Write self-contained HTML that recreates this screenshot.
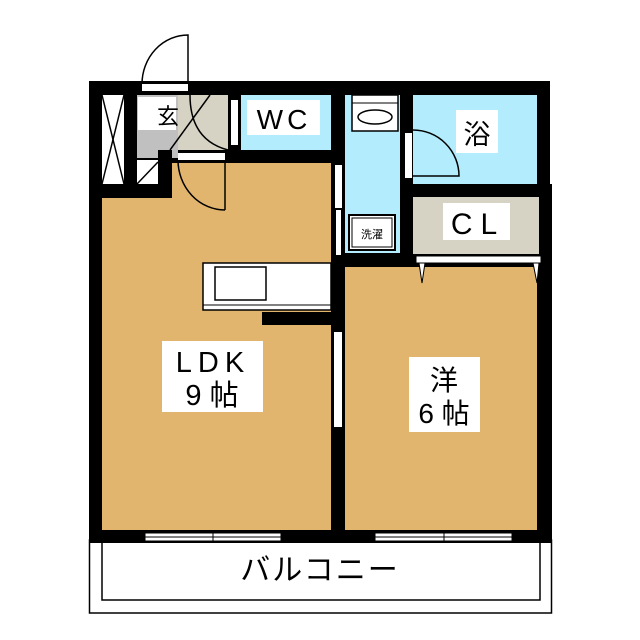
<!DOCTYPE html>
<html><head><meta charset="utf-8"><style>
html,body{margin:0;padding:0;background:#fff;width:640px;height:640px;overflow:hidden}
svg{display:block}
text{font-family:"Liberation Sans","Noto Sans CJK JP",sans-serif;fill:#000}
</style></head><body>
<svg width="640" height="640" viewBox="0 0 640 640" xmlns="http://www.w3.org/2000/svg">
<rect x="89.5" y="540" width="462" height="73" fill="#fff" stroke="#000" stroke-width="1.5"/>
<polyline points="102,543 102,600 540,600 540,543" fill="none" stroke="#000" stroke-width="1.5"/>
<rect x="89" y="81" width="461" height="462" fill="#000"/>
<rect x="537" y="184" width="15" height="359" fill="#000"/>
<rect x="102" y="95" width="22" height="89" fill="#fff"/>
<line x1="102" y1="95" x2="124" y2="184" stroke="#000" stroke-width="1.5"/>
<line x1="124" y1="95" x2="102" y2="184" stroke="#000" stroke-width="1.5"/>
<rect x="137" y="95" width="41" height="63" fill="#c0c0c0"/>
<rect x="138" y="97" width="38" height="33" fill="#fff"/>
<rect x="178" y="95" width="50" height="55" fill="#d6d2c4"/>
<rect x="137" y="160" width="21" height="24" fill="#fff"/>
<line x1="137" y1="184" x2="158" y2="162" stroke="#000" stroke-width="1.5"/>
<rect x="158" y="150" width="14" height="48" fill="#000"/>
<rect x="178" y="153" width="47" height="7" fill="#fff"/>
<path d="M190 95 Q190 140 228 150" fill="none" stroke="#000" stroke-width="1.5"/>
<line x1="210" y1="95" x2="170" y2="150" stroke="#000" stroke-width="1.5"/>
<rect x="241" y="95" width="90" height="55" fill="#b3ecfc"/>
<rect x="231" y="100" width="7" height="45" fill="#fff"/>
<rect x="247" y="100" width="73" height="35" fill="#fff"/>
<path d="M172 163 H331 V530 H102 V198 H172 Z" fill="#e2b56f"/>
<path d="M178 160 A47 50 0 0 0 225 210" fill="none" stroke="#000" stroke-width="1.5"/>
<line x1="225" y1="160" x2="225" y2="210" stroke="#000" stroke-width="1.5"/>
<rect x="335" y="165" width="7" height="43" fill="#fff"/>
<rect x="336" y="210" width="5" height="45" fill="#fff"/>
<rect x="334" y="332" width="8" height="95" fill="#fff"/>
<rect x="203" y="263" width="128" height="47" fill="#fff" stroke="#000" stroke-width="1.5"/>
<line x1="203" y1="305" x2="331" y2="305" stroke="#000" stroke-width="1"/>
<rect x="215" y="267" width="51" height="33" fill="#fff" stroke="#000" stroke-width="1.5"/>
<rect x="262" y="312" width="69" height="13" fill="#000"/>
<rect x="345" y="95" width="55" height="158" fill="#b3ecfc"/>
<rect x="352" y="95" width="46" height="36" fill="#fff" stroke="#000" stroke-width="1.5"/>
<line x1="352" y1="103" x2="398" y2="103" stroke="#000" stroke-width="1"/>
<ellipse cx="375" cy="117" rx="17" ry="7" fill="#fff" stroke="#000" stroke-width="1.5"/>
<rect x="349" y="215" width="46" height="35" fill="#fff" stroke="#000" stroke-width="2"/>
<rect x="352" y="218" width="40" height="29" fill="#fff" stroke="#000" stroke-width="1"/>
<rect x="413" y="95" width="124" height="89" fill="#b3ecfc"/>
<rect x="405" y="133" width="7" height="45" fill="#fff"/>
<path d="M413 130 A46 46 0 0 1 459 176 H413" fill="none" stroke="#000" stroke-width="1.5"/>
<rect x="456" y="110" width="42" height="43" fill="#fff"/>
<rect x="413" y="197" width="126" height="57" fill="#d6d2c4"/>
<rect x="443" y="203" width="67" height="37" fill="#fff"/>
<rect x="416" y="256" width="125" height="7" fill="#fff" stroke="#000" stroke-width="1"/>
<rect x="345" y="267" width="192" height="263" fill="#e2b56f"/>
<polygon points="419,263 425,263 422,283" fill="#fff" stroke="#000" stroke-width="1"/>
<polygon points="533,263 539,263 537,283" fill="#fff" stroke="#000" stroke-width="1"/>
<rect x="145" y="533" width="136" height="8" fill="#fff" stroke="#000" stroke-width="1"/>
<line x1="145" y1="537" x2="281" y2="537" stroke="#000" stroke-width="1"/>
<line x1="213" y1="530" x2="213" y2="543" stroke="#000" stroke-width="1"/>
<rect x="375" y="533" width="137" height="8" fill="#fff" stroke="#000" stroke-width="1"/>
<line x1="375" y1="537" x2="512" y2="537" stroke="#000" stroke-width="1"/>
<line x1="444" y1="530" x2="444" y2="543" stroke="#000" stroke-width="1"/>
<rect x="142" y="84" width="46" height="7" fill="#fff"/>
<path d="M142 84 A46 49 0 0 1 188 35 V84" fill="none" stroke="#000" stroke-width="1.5"/>
<rect x="162" y="341" width="101" height="71" fill="#fff"/>
<rect x="409" y="357" width="71" height="75" fill="#fff"/>
<text x="157" y="124" font-size="22">玄</text>
<text x="284" y="129" font-size="28" text-anchor="middle" letter-spacing="4">WC</text>
<text x="477" y="144" font-size="27" text-anchor="middle">浴</text>
<text x="478" y="234" font-size="30" text-anchor="middle" letter-spacing="8">CL</text>
<text x="372" y="238" font-size="11" text-anchor="middle">洗濯</text>
<text x="213" y="372" font-size="29" text-anchor="middle" letter-spacing="6">LDK</text>
<text x="212" y="405" font-size="29" text-anchor="middle">9 帖</text>
<text x="444" y="390" font-size="28" text-anchor="middle">洋</text>
<text x="444" y="423" font-size="28" text-anchor="middle">6 帖</text>
<text x="320" y="580" font-size="30" text-anchor="middle" letter-spacing="2">バルコニー</text>
</svg>
</body></html>
